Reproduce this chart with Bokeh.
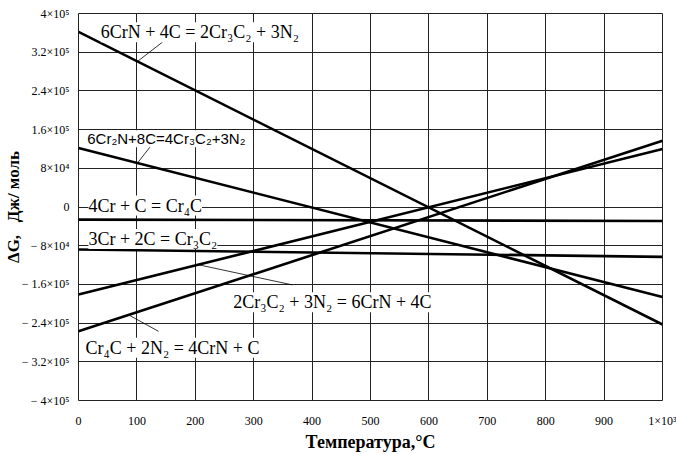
from bokeh.plotting import figure
from bokeh.models import FixedTicker, Label
from bokeh.embed import file_html
from bokeh.resources import INLINE
import numpy as np

# Temperature endpoints (°C)
T = [0, 1000]

# ΔG (J/mol) at T=0 and T=1000 for each reaction
g_crn_c = [3.62e5, -2.43e5]        # 6CrN + 4C = 2Cr3C2 + 3N2
g_cr2n_c = [1.22e5, -1.86e5]       # 6Cr2N+8C=4Cr3C2+3N2
g_cr4c = [-2.6e4, -2.9e4]          # 4Cr + C = Cr4C
g_cr3c2 = [-8.8e4, -1.03e5]        # 3Cr + 2C = Cr3C2
g_cr3c2_n2 = [-1.81e5, 1.20e5]     # 2Cr3C2 + 3N2 = 6CrN + 4C
g_cr4c_n2 = [-2.57e5, 1.37e5]      # Cr4C + 2N2 = 4CrN + C

labels = [
    "6CrN + 4C = 2Cr\u2083C\u2082 + 3N\u2082",
    "6Cr\u2082N+8C=4Cr\u2083C\u2082+3N\u2082",
    "4Cr + C = Cr\u2084C",
    "3Cr + 2C = Cr\u2083C\u2082",
    "2Cr\u2083C\u2082 + 3N\u2082 = 6CrN + 4C",
    "Cr\u2084C + 2N\u2082 = 4CrN + C",
]

x_ticks = list(range(0, 1001, 100))
x_tick_labels = [str(v) for v in x_ticks[:-1]] + ["1\u00d710\u00b3"]
y_ticks = [-4e5, -3.2e5, -2.4e5, -1.6e5, -8e4, 0, 8e4, 1.6e5, 2.4e5, 3.2e5, 4e5]
y_tick_labels = ["\u2212 4\u00d710\u2075", "\u2212 3.2\u00d710\u2075", "\u2212 2.4\u00d710\u2075",
                 "\u2212 1.6\u00d710\u2075", "\u2212 8\u00d710\u2074", "0", "8\u00d710\u2074",
                 "1.6\u00d710\u2075", "2.4\u00d710\u2075", "3.2\u00d710\u2075", "4\u00d710\u2075"]

p = figure(width=676, height=454, x_range=(0, 1000), y_range=(-4e5, 4e5),
           output_backend="svg", toolbar_location=None,
           min_border_left=78, min_border_right=14, min_border_top=13, min_border_bottom=49)
p.background_fill_color = "white"
p.border_fill_color = "white"
p.outline_line_color = "#222222"
p.outline_line_width = 1

p.xaxis.ticker = FixedTicker(ticks=x_ticks)
p.yaxis.ticker = FixedTicker(ticks=y_ticks)
p.xaxis.major_label_overrides = {v: s for v, s in zip(x_ticks, x_tick_labels)}
p.yaxis.major_label_overrides = {v: s for v, s in zip(y_ticks, y_tick_labels)}
for ax in (p.xaxis, p.yaxis):
    ax.axis_line_color = None
    ax.major_tick_line_color = None
    ax.minor_tick_line_color = None
    ax.major_label_text_font = "Liberation Serif"
    ax.major_label_text_font_size = "12px"
    ax.major_label_text_color = "black"
    ax.axis_label_text_font = "Liberation Serif"
    ax.axis_label_text_font_style = "bold"
    ax.axis_label_text_color = "black"
p.xaxis.axis_label_text_font_size = "18px"
p.yaxis.axis_label_text_font_size = "17px"
p.yaxis.major_label_standoff = 3
p.xaxis.major_label_standoff = 7
p.xaxis.axis_label = "Температура,°C"
p.yaxis.axis_label = "\u0394G,\u00a0\u00a0\u00a0Дж/\u00a0моль"
p.xaxis.axis_label_standoff = 1
p.yaxis.axis_label_standoff = -4

p.xgrid.ticker = FixedTicker(ticks=x_ticks)
p.ygrid.ticker = FixedTicker(ticks=y_ticks)
for g in (p.xgrid, p.ygrid):
    g.grid_line_color = "#222222"
    g.grid_line_width = 1
    g.grid_line_alpha = 1

series = [g_crn_c, g_cr2n_c, g_cr4c, g_cr3c2, g_cr3c2_n2, g_cr4c_n2]

# labels (with white background like the original)
label_pos = [(38, 3.61e5), (15, 1.41e5), (17, 3e3), (17, -6.6e4), (265, -1.97e5), (12, -2.91e5)]
label_font = ["Liberation Serif", "Liberation Sans", "Liberation Serif", "Liberation Serif",
              "Liberation Serif", "Liberation Serif"]
label_size = ["18px", "15px", "18px", "18px", "18px", "18px"]
for txt, (lx, ly), fnt, fs in zip(labels, label_pos, label_font, label_size):
    p.add_layout(Label(x=lx, y=ly, text=txt, text_font=fnt, text_font_size=fs,
                       text_baseline="middle", text_align="left", text_color="black",
                       background_fill_color="white", padding=0))

# reaction lines
for s in series:
    p.line(T, s, line_color="black", line_width=2.6)

# pointer lines from curves to labels
ptr_series = [g_crn_c, g_cr2n_c, g_cr3c2_n2, g_cr4c_n2]
ptr_t = [101, 101, 205, 86]
ptr_end = [(144, 3.41e5), (127, 1.31e5), (366, -1.61e5), (137, -2.57e5)]
x0 = [t for t in ptr_t]
y0 = [float(np.interp(t, T, s)) for t, s in zip(ptr_t, ptr_series)]
p.segment(x0=x0, y0=y0, x1=[e[0] for e in ptr_end], y1=[e[1] for e in ptr_end],
          line_color="black", line_width=0.8)

open("out.html", "w").write(file_html(p, INLINE))
